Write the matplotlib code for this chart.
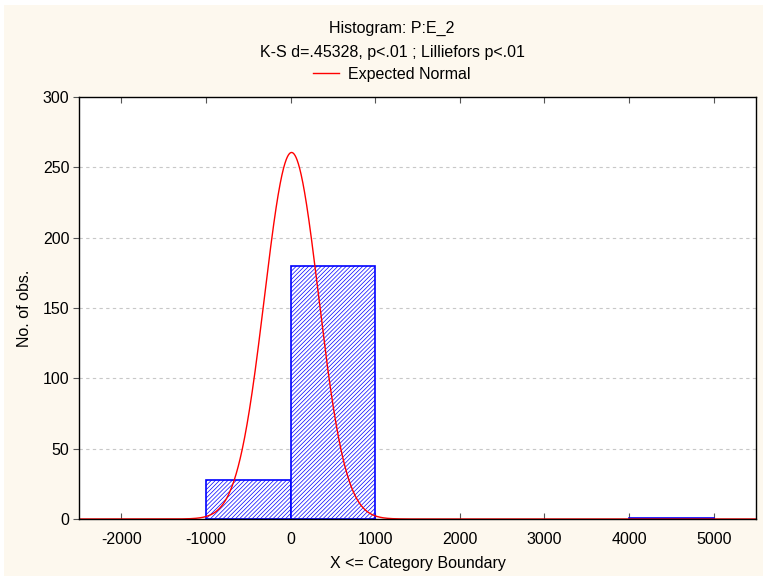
import numpy as np
import matplotlib
matplotlib.use('Agg')
import matplotlib.pyplot as plt
from matplotlib.patches import Rectangle

plt.rcParams['font.family'] = ['Liberation Sans', 'DejaVu Sans']
plt.rcParams['hatch.linewidth'] = 0.5
plt.rcParams['hatch.color'] = '#0000ff'
plt.rcParams['axes.unicode_minus'] = False

# histogram of P:E_2, bins of width 1000
bin_left = [-2000, -1000, 0, 1000, 2000, 3000, 4000]
counts = [0, 28, 180, 0, 0, 0, 1]
bin_width = 1000

# expected normal parameters
n_obs = 209
mean_val = 12.0
sd_val = 320.0

x_ticks = [-2000, -1000, 0, 1000, 2000, 3000, 4000, 5000]
y_ticks = [0, 50, 100, 150, 200, 250, 300]

fig = plt.figure(figsize=(7.64, 5.77), dpi=100)
fig.patch.set_facecolor('white')
W, H = 764.0, 577.0
bg = Rectangle((4 / W, 1 / H), (W - 5) / W, (H - 6) / H,
               transform=fig.transFigure, facecolor='#fdf8ee',
               edgecolor='none', zorder=-10)
fig.add_artist(bg)

ax = fig.add_axes([79 / W, 58 / H, 677 / W, 422 / H])
ax.set_zorder(1)
ax.set_facecolor('white')

for b, c in zip(bin_left, counts):
    if c > 0:
        ax.bar(b, c, width=bin_width, align='edge', facecolor='white',
               edgecolor='#0000ff', hatch='////////', linewidth=1.2, zorder=2)

xs = np.linspace(-2500, 5500, 2000)
ys = n_obs * bin_width / (sd_val * np.sqrt(2 * np.pi)) * np.exp(-(xs - mean_val) ** 2 / (2 * sd_val ** 2))
ax.plot(xs, ys, color='#ff0000', linewidth=1.0, zorder=3)

ax.set_xlim(-2500, 5500)
ax.set_ylim(0, 300)
ax.set_xticks(x_ticks)
ax.set_yticks(y_ticks)
for yv in y_ticks[1:-1]:
    ax.axhline(yv, color='#c8c8c8', linestyle=(0, (3, 3)), linewidth=0.8, zorder=1)

ax.tick_params(axis='x', direction='in', top=True, length=4, width=0.8,
               color='#555555', labelsize=11.5, pad=9)
ax.tick_params(axis='y', direction='out', length=4, width=0.8,
               color='#555555', labelsize=11.5, pad=3)
for s in ax.spines.values():
    s.set_linewidth(1.0)
    s.set_color('black')
    s.set_zorder(4)

ax.set_xlabel('X <= Category Boundary', fontsize=11.5, labelpad=6.5)
ax.set_ylabel('No. of obs.', fontsize=11.5, labelpad=8)

cx = 392 / W
fig.text(cx, 1 - 28 / H, 'Histogram: P:E_2', ha='center', va='center', fontsize=11.5, zorder=2)
fig.text(cx, 1 - 52 / H, 'K-S d=.45328, p<.01 ; Lilliefors p<.01', ha='center', va='center',
         fontsize=11.5, zorder=2)
leg = fig.legend([plt.Line2D([], [], color='#ff0000', linewidth=1.0)], ['Expected Normal'],
                 loc='center', bbox_to_anchor=(cx, 1 - 74 / H),
                 frameon=False, fontsize=11.5, handlelength=1.6, handletextpad=0.6)
leg.set_zorder(2)

fig.savefig('out.png', dpi=100, facecolor=fig.get_facecolor())
